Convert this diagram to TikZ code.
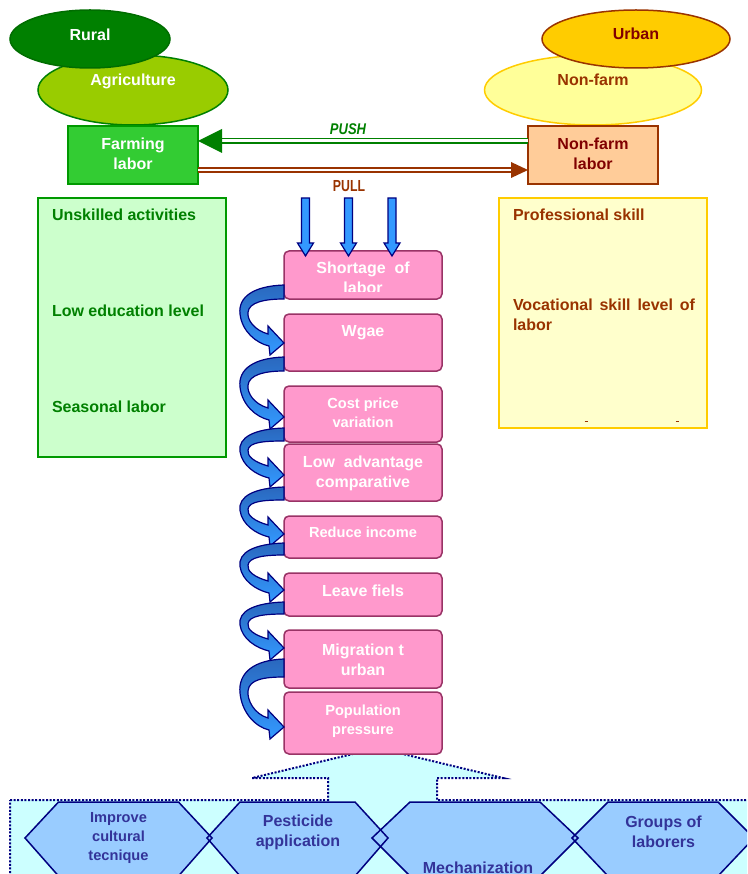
\documentclass[tikz,border=0pt]{standalone}
\usepackage{fontspec}
\usepackage{graphicx}
\setmainfont{Liberation Sans}
\usetikzlibrary{shapes.geometric,calc}
\definecolor{ruralgreen}{HTML}{008000}
\definecolor{agri}{HTML}{99CC00}
\definecolor{farm}{HTML}{33CC33}
\definecolor{farmborder}{HTML}{009900}
\definecolor{lightgreen}{HTML}{CCFFCC}
\definecolor{urbanfill}{HTML}{FFCC00}
\definecolor{clrbrown}{HTML}{993300}
\definecolor{darkred}{HTML}{800000}
\definecolor{paleyellow}{HTML}{FFFF99}
\definecolor{peach}{HTML}{FFCC99}
\definecolor{cream}{HTML}{FFFFCC}
\definecolor{pinkfill}{HTML}{FF99CC}
\definecolor{pinkborder}{HTML}{993366}
\definecolor{arrowblue}{HTML}{3399FF}
\definecolor{arrowdark}{HTML}{2A68BE}
\definecolor{navy}{HTML}{000080}
\definecolor{cyanfill}{HTML}{CCFFFF}
\definecolor{hexfill}{HTML}{99CCFF}
\definecolor{hextext}{HTML}{333399}

% curved block arrow: #1 source box, #2 start offset above its bottom, #3 band thickness, #4 drop to tip
\newcommand\curvarrow[4]{%
  \pgfmathsetmacro\hA{#4}%
  \pgfmathsetmacro\tA{#3}%
  \begin{scope}[shift={($(#1.south west)+(0,-#2)$)}]
    \draw[curvarr] (0,0) .. controls (-30,1) and (-46,{0.2*\hA}) .. (-44,{0.5*\hA})
      .. controls (-42,{0.8*\hA}) and (-28,\hA) .. (-15,{\hA+3})
      -- (-14,{\hA+12}) -- (0,\hA) -- (-16,{\hA-17}) -- (-16,{\hA-9})
      .. controls (-30,{\hA-13}) and (-37,{0.6*\hA}) .. (-36,{0.47*\hA})
      .. controls (-35,{0.3*\hA}) and (-20,\tA) .. (0,\tA) -- cycle;
  \end{scope}}

% hexagon: #1 centre x, #2 half width at points, #3 half width of flat top
\newcommand\hexpath[3]{%
  ({#1-#2},838) -- ({#1-#3},802) -- ({#1+#3},802) -- ({#1+#2},838) -- ({#1+#3},876) -- ({#1-#3},876) -- cycle}

\begin{document}
\begin{tikzpicture}[x=1pt,y=-1pt,
  every node/.style={inner sep=0pt,outer sep=0pt},
  f16/.style={font=\fontsize{16}{20}\selectfont\bfseries,align=center},
  f15/.style={font=\fontsize{14.6}{19}\selectfont\bfseries,align=center},
  ell/.style={ellipse,line width=1.5pt},
  box/.style={rectangle,line width=2pt},
  pinkbox/.style={rectangle,rounded corners=5pt,fill=pinkfill,draw=pinkborder,line width=1.5pt,minimum width=158pt},
  blockarr/.style={fill=arrowblue,draw=navy,line width=1.2pt,line join=miter},
  curvarr/.style={top color=arrowdark,bottom color=arrowblue,draw=navy,line width=1.2pt},
  hexfillst/.style={fill=hexfill},
  hexline/.style={draw=navy,line width=1.5pt},
  dottedline/.style={draw=navy,line width=2pt,dash pattern=on 2pt off 1.6pt}
]
\useasboundingbox (0,0) rectangle (747,874);
\clip (0,0) rectangle (747,874);

% ---------- ellipses ----------
\node[ell,fill=agri,draw=ruralgreen,minimum width=190pt,minimum height=70pt] (agri) at (133,90) {};
\node[ell,fill=ruralgreen,draw=ruralgreen!85!black,minimum width=160pt,minimum height=58pt] (rural) at (90,39) {};
\node[f16,white] (ruralt) at (90,35) {Rural};
\node[f16,white] (agrit) at (133,81.5) {Agriculture};

\node[ell,fill=paleyellow,draw=urbanfill,minimum width=217pt,minimum height=70pt] (nonfarm) at (593,90) {};
\node[ell,fill=urbanfill,draw=clrbrown,minimum width=188pt,minimum height=58pt] (urban) at (636,39) {};
\node[f16,darkred] (urbant) at (636,34) {Urban};
\node[f16,clrbrown] (nonfarmt) at (593,80) {Non-farm};

% ---------- labour boxes ----------
\node[box,fill=farm,draw=farmborder,minimum width=130pt,minimum height=58pt] (fl) at (133,155) {};
\node[f16,white] (flt) at (133,153.5) {Farming\\labor};
\node[box,fill=peach,draw=clrbrown,minimum width=130pt,minimum height=58pt] (nfl) at (593,155) {};
\node[f16,darkred] (nflt) at (593,153.5) {Non-farm\\labor};

% ---------- push / pull ----------
\draw[draw=ruralgreen,line width=1.8pt,double=white,double distance=3pt]
  ($(nfl.west)+(0,-14)$) -- ($(fl.east)+(20,-14)$);
\fill[ruralgreen] ($(fl.east)+(0,-14)$) -- ++(24,-12) -- ++(0,24) -- cycle;
\draw[draw=clrbrown,line width=1.7pt,double=white,double distance=1.8pt]
  ($(fl.east)+(0,15)$) -- ($(nfl.west)+(-14,15)$);
\fill[clrbrown] ($(nfl.west)+(0,15)$) -- ++(-17,-8) -- ++(0,16) -- cycle;
\node[ruralgreen,font=\fontsize{15.5}{16}\selectfont\bfseries\itshape] (push) at (348,129) {\scalebox{0.84}[1]{PUSH}};
\node[clrbrown,font=\fontsize{16}{16}\selectfont\bfseries] (pull) at (349,186.5) {\scalebox{0.77}[1]{PULL}};

% ---------- side boxes ----------
\node[box,fill=lightgreen,draw=farmborder,minimum width=188pt,minimum height=259pt] (lb) at (132,327.5) {};
\node[f16,ruralgreen,anchor=west] (lb1) at (52,214.5) {Unskilled activities};
\node[f16,ruralgreen,anchor=west] (lb2) at (52,310.5) {Low education level};
\node[f16,ruralgreen,anchor=west] (lb3) at (52,406.5) {Seasonal labor};

\node[box,fill=cream,draw=urbanfill,minimum width=208pt,minimum height=230pt] (rb) at (603,313) {};
\node[f16,clrbrown,anchor=west] (rb1) at (513,214.5) {Professional skill};
\node[f16,clrbrown,anchor=north west,align=left] (rb2) at (513,298.5) {\makebox[182pt][s]{Vocational skill level of}\\labor};
\node[clrbrown] (rbd1) at (586,421) {\rule{3pt}{1pt}};
\node[clrbrown] (rbd2) at (677,421) {\rule{3pt}{1pt}};

% ---------- bottom callout ----------
\draw[fill=cyanfill,dottedline] (10,800) -- (328,800) -- (328,778) -- (252,778) -- (378,748)
  -- (503,778) -- (437,778) -- (437,800) -- (760,800) -- (760,900) -- (10,900) -- cycle;

% ---------- chain of pink boxes ----------
\node[pinkbox,minimum height=48pt] (b1) at (363,275) {};
\node[pinkbox,minimum height=57pt] (b2) at (363,342.5) {};
\node[pinkbox,minimum height=56pt] (b3) at (363,414) {};
\node[pinkbox,minimum height=57pt] (b4) at (363,472.5) {};
\node[pinkbox,minimum height=42pt] (b5) at (363,537) {};
\node[pinkbox,minimum height=43pt] (b6) at (363,594.5) {};
\node[pinkbox,minimum height=58pt] (b7) at (363,659) {};
\node[pinkbox,minimum height=62pt] (b8) at (363,723) {};

\begin{scope}
  \clip (284,251) rectangle (442,291);
  \node[f16,white] (b1t) at (363,278) {Shortage\ \ of\\labor};
\end{scope}
\node[f16,white] (b2t) at (363,333) {Wgae};
\node[f15,white] (b3t) at (363,413) {Cost price\\variation};
\node[f16,white] (b4t) at (363,473) {Low\ \ advantage\\comparative};
\node[f15,white] (b5t) at (363,532) {Reduce income};
\node[f16,white] (b6t) at (363,591) {Leave fiels};
\node[f16,white] (b7t) at (363,659.5) {Migration t\\urban};
\node[f15,white] (b8t) at (363,721) {Population\\pressure};

% ---------- straight block arrows into the first box ----------
\foreach \dx in {-57.5,-14.5,29}{
  \draw[blockarr] ($(b1.north)+(\dx,5)$) -- ++(-8,-13) -- ++(4,0) -- ++(0,-45) -- ++(8,0) -- ++(0,45) -- ++(4,0) -- cycle;
}

% ---------- curved arrows between boxes ----------
\curvarrow{b1}{14}{14}{58}
\curvarrow{b2}{14}{14}{60}
\curvarrow{b3}{14}{13}{47}
\curvarrow{b4}{14}{13}{47}
\curvarrow{b5}{15}{12}{47}
\curvarrow{b6}{14}{12}{46}
\curvarrow{b7}{29}{18}{68}

% ---------- hexagons ----------
\fill[hexfillst] \hexpath{118.5}{93.5}{60};
\fill[hexfillst] \hexpath{297.5}{90.5}{57.5};
\fill[hexfillst] \hexpath{475}{103}{65};
\fill[hexfillst] \hexpath{663}{91}{55};
\draw[hexline] \hexpath{118.5}{93.5}{60};
\draw[hexline] \hexpath{297.5}{90.5}{57.5};
\draw[hexline] \hexpath{475}{103}{65};
\draw[hexline] \hexpath{663}{91}{55};
\node[f15,hextext] (h1) at (118.5,838) {Improve\\cultural\\tecnique};
\node[f16,hextext] (h2) at (298,832) {Pesticide\\application};
\node[f16,hextext] (h3) at (478,868) {Mechanization};
\node[f16,hextext] (h4) at (663.5,832) {Groups of\\laborers};
\end{tikzpicture}
\end{document}
